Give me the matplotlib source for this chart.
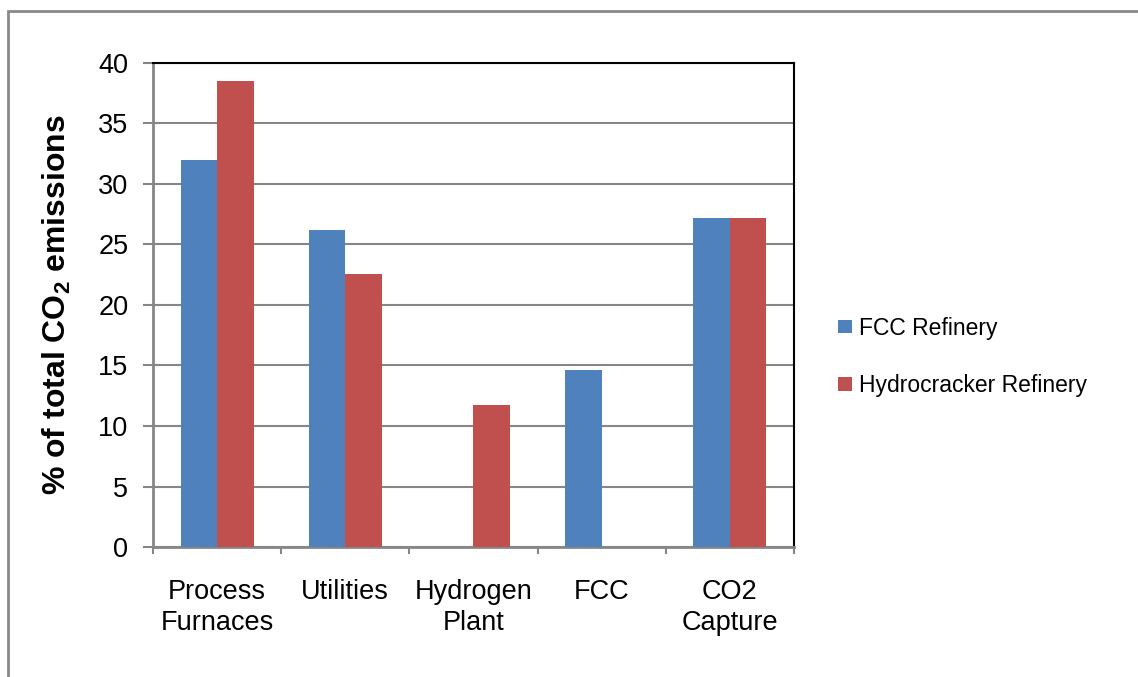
import matplotlib.pyplot as plt
import numpy as np
from matplotlib.patches import Rectangle

# data
categories = ["Process\nFurnaces", "Utilities", "Hydrogen\nPlant", "FCC", "CO2\nCapture"]
fcc_refinery = [32.0, 26.2, 0, 14.6, 27.2]
hydrocracker_refinery = [38.5, 22.6, 11.7, 0, 27.2]
series_names = ["FCC Refinery", "Hydrocracker Refinery"]
yticks = [0, 5, 10, 15, 20, 25, 30, 35, 40]

plt.rcParams['font.family'] = ['Liberation Sans', 'DejaVu Sans']
plt.rcParams['mathtext.fontset'] = 'custom'
plt.rcParams['mathtext.rm'] = 'Liberation Sans'
plt.rcParams['mathtext.bf'] = 'Liberation Sans:bold'

blue = '#4F81BD'
red = '#C0504D'
gray = '#868686'

fig = plt.figure(figsize=(11.38, 6.77), dpi=100)
ax = fig.add_axes([0.1344, 0.192, 0.5633, 0.715])

x = np.arange(len(categories))
w = 0.285
b1 = ax.bar(x - w / 2, fcc_refinery, w, color=blue, zorder=3)
b2 = ax.bar(x + w / 2, hydrocracker_refinery, w, color=red, zorder=3)

ax.set_xlim(-0.5, len(categories) - 0.5)
ax.set_ylim(0, 40)
ax.set_yticks(yticks)
ax.yaxis.grid(True, color=gray, linewidth=1.5, zorder=0)

# tick marks at category boundaries, labels at centres
ax.set_xticks(np.arange(len(categories) + 1) - 0.5)
ax.set_xticklabels([])
ax.set_xticks(x, minor=True)
ax.set_xticklabels(categories, minor=True, fontsize=19.5, linespacing=1.25)
ax.tick_params(axis='x', which='major', length=5, width=1.5, color=gray, direction='out')
ax.tick_params(axis='x', which='minor', length=0, pad=23)
ax.tick_params(axis='y', length=7.2, width=1.5, color=gray, labelsize=19.5, pad=10.5)

for side in ['left', 'bottom']:
    ax.spines[side].set_color(gray)
    ax.spines[side].set_linewidth(2)
for side in ['top', 'right']:
    ax.spines[side].set_color('black')
    ax.spines[side].set_linewidth(1.5)

ax.set_ylabel(r'% of total CO$_\mathbf{2}$ emissions', fontsize=23, fontweight='bold', labelpad=18)

fig.legend([b1, b2], series_names, loc='center left', bbox_to_anchor=(0.7364, 0.473),
           frameon=False, fontsize=16.5, handlelength=0.6, handleheight=0.55,
           handletextpad=0.3, labelspacing=1.5, borderpad=0, borderaxespad=0)

# outer chart frame
fig.patches.append(Rectangle((8 / 1138, -0.1), 1.2, 0.1 + (677 - 11) / 677,
                             transform=fig.transFigure, fill=False,
                             edgecolor='#898989', linewidth=2))

fig.savefig('out.png', dpi=100)
